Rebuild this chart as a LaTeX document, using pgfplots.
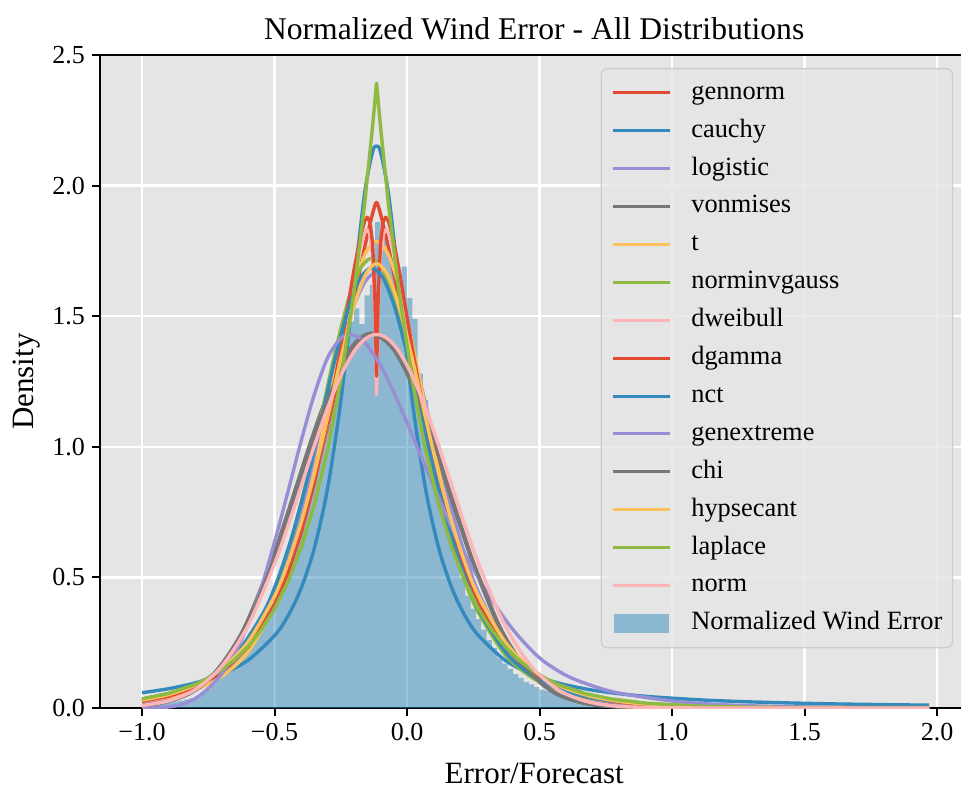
\documentclass[border=0pt]{standalone}
\usepackage{fontspec}
\setmainfont{Liberation Serif}
\usepackage{pgfplots}
\pgfplotsset{compat=1.18}
\usetikzlibrary{calc}
\definecolor{bgc}{HTML}{E5E5E5}
\definecolor{legc}{HTML}{CCCCCC}
\definecolor{cred}{HTML}{E24A33}
\definecolor{cblue}{HTML}{348ABD}
\definecolor{cpurple}{HTML}{988ED5}
\definecolor{cgray}{HTML}{777777}
\definecolor{cyellow}{HTML}{FBC15E}
\definecolor{cgreen}{HTML}{8EBA42}
\definecolor{cpink}{HTML}{FFB5B8}
\begin{document}
\begin{tikzpicture}
\begin{axis}[
  name=ax,
  scale only axis, width=434.2pt, height=326.5pt,
  xmin=-1.1585, xmax=2.1185, ymin=0, ymax=2.5,
  axis background/.style={fill=bgc},
  grid=major, grid style={white, line width=1.1pt},
  axis line style={black, line width=1.2pt},
  tick pos=left, tick align=outside, major tick length=4pt,
  tick style={black, line width=1pt},
  xtick={-1,-0.5,0,0.5,1,1.5,2},
  xticklabels={−1.0,−0.5,0.0,0.5,1.0,1.5,2.0},
  ytick={0,0.5,1,1.5,2,2.5},
  yticklabels={0.0,0.5,1.0,1.5,2.0,2.5},
  ticklabel style={font=\fontsize{13}{15}\selectfont},
  title={Normalized Wind Error - All Distributions},
  title style={at={(axis description cs:0.5,1.023)}, anchor=base, yshift=-6pt, font=\fontsize{15.8}{19}\selectfont},
  xlabel={Error/Forecast},
  xlabel style={at={(axis description cs:0.5,-0.1149)}, anchor=base, font=\fontsize{15.5}{18}\selectfont},
  ylabel={Density},
  ylabel style={at={(axis description cs:-0.076,0.5)}, anchor=base, font=\fontsize{15.5}{18}\selectfont},
  every axis plot/.append style={line width=1.7pt, line join=round, no markers},
  legend cell align=left,
  legend image code/.code={\draw[#1, line width=1.5pt] (0pt,0pt) -- (28.5pt,0pt);},
  legend style={
    at={(axis description cs:0.9823,0.980)}, anchor=north east,
    fill=bgc, fill opacity=0.8, text opacity=1, draw=legc, line width=0.6pt, rounded corners=3pt,
    font=\fontsize{13.2}{15}\selectfont,
    inner xsep=5pt, inner ysep=6pt,
    row sep=6.75pt,
    nodes={inner sep=0pt, text height=9.3pt, text depth=2.9pt},
    /tikz/every odd column/.append style={column sep=10pt},
  },
]
% histogram
\addplot[ybar interval, fill=cblue, fill opacity=0.5, draw=none, forget plot] coordinates {
(-1.00,0.012) (-0.98,0.014) (-0.96,0.016) (-0.94,0.018) (-0.92,0.020) (-0.90,0.022) (-0.88,0.025) (-0.86,0.028) (-0.84,0.033) (-0.82,0.038)
(-0.80,0.046) (-0.78,0.056) (-0.76,0.070) (-0.74,0.090) (-0.72,0.150) (-0.70,0.130) (-0.68,0.170) (-0.66,0.215) (-0.64,0.225) (-0.62,0.255)
(-0.60,0.285) (-0.58,0.300) (-0.56,0.330) (-0.54,0.370) (-0.52,0.410) (-0.50,0.470) (-0.48,0.540) (-0.46,0.600) (-0.44,0.650) (-0.42,0.730)
(-0.40,0.810) (-0.38,0.890) (-0.36,0.970) (-0.34,1.060) (-0.32,1.140) (-0.30,1.220) (-0.28,1.300) (-0.26,1.370) (-0.24,1.430) (-0.22,1.480)
(-0.20,1.530) (-0.18,1.470) (-0.16,1.580) (-0.14,1.620) (-0.12,1.860) (-0.10,1.800) (-0.08,1.760) (-0.06,1.720) (-0.04,1.660) (-0.02,1.690)
(0.00,1.570) (0.02,1.490) (0.04,1.280) (0.06,1.180) (0.08,1.080) (0.10,0.980) (0.12,0.860) (0.14,0.750) (0.16,0.650) (0.18,0.560)
(0.20,0.500) (0.22,0.430) (0.24,0.380) (0.26,0.340) (0.28,0.300) (0.30,0.260) (0.32,0.230) (0.34,0.190) (0.36,0.170) (0.38,0.150)
(0.40,0.130) (0.42,0.115) (0.44,0.100) (0.46,0.090) (0.48,0.080) (0.50,0.070) (0.52,0.065) (0.54,0.060) (0.56,0.055) (0.58,0.050)
(0.60,0.046) (0.62,0.042) (0.64,0.039) (0.66,0.036) (0.68,0.033) (0.70,0.030) (0.72,0.028) (0.74,0.026) (0.76,0.024) (0.78,0.022)
(0.80,0.020) (0.82,0.019) (0.84,0.018) (0.86,0.017) (0.88,0.016) (0.90,0.015) (0.92,0.014) (0.94,0.013) (0.96,0.012) (0.98,0.012)
(1.00,0.011) (1.02,0.010) (1.04,0.010) (1.06,0.009) (1.08,0.009) (1.10,0.009) (1.12,0.008) (1.14,0.008) (1.16,0.008) (1.18,0.007)
(1.20,0.007) (1.22,0.007) (1.24,0.006) (1.26,0.006) (1.28,0.006) (1.30,0.006) (1.32,0.005) (1.34,0.005) (1.36,0.005) (1.38,0.005)
(1.40,0.004) (1.42,0.004) (1.44,0.004) (1.46,0.004) (1.48,0.004) (1.50,0.004) (1.52,0.003) (1.54,0.003) (1.56,0.003) (1.58,0.003)
(1.60,0.003) (1.62,0.003) (1.64,0.003) (1.66,0.003) (1.68,0.003) (1.70,0.003) (1.72,0.002) (1.74,0.002) (1.76,0.002) (1.78,0.002)
(1.80,0.002) (1.82,0.002) (1.84,0.002) (1.86,0.002) (1.88,0.002) (1.90,0.002) (1.92,0.002) (1.94,0.002) (1.96,0.002) (1.98,0.002)
};
% gennorm
\addplot[cred, smooth] coordinates {
(-1.0,0.0220) (-0.9,0.0420) (-0.8,0.0782) (-0.7,0.1418) (-0.6,0.2496) (-0.5,0.4245) (-0.45,0.5455) (-0.4,0.6935) (-0.35,0.8707) (-0.3,1.078) (-0.25,1.312) (-0.2,1.564) (-0.16,1.763) (-0.13,1.892) (-0.115,1.935) (-0.1,1.892) (-0.07,1.763) (-0.03,1.564) (0.02,1.312) (0.07,1.078) (0.12,0.8707) (0.17,0.6935) (0.22,0.5455) (0.27,0.4245) (0.37,0.2496) (0.47,0.1418) (0.57,0.0782) (0.67,0.0420) (0.77,0.0220) (0.9,0.00919) (1.1,0.00224) (1.3,0.00051) (1.6,0.00005) (1.97,0)
};
\addlegendentry{gennorm}
% cauchy
\addplot[cblue, smooth] coordinates {
(-1.0,0.0585) (-0.9,0.0738) (-0.8,0.0959) (-0.7,0.1294) (-0.6,0.183) (-0.5,0.277) (-0.45,0.351) (-0.4,0.457) (-0.35,0.611) (-0.3,0.839) (-0.25,1.174) (-0.2,1.618) (-0.16,1.969) (-0.13,2.129) (-0.115,2.151) (-0.1,2.129) (-0.07,1.969) (-0.03,1.618) (0.02,1.174) (0.07,0.839) (0.12,0.611) (0.17,0.457) (0.22,0.351) (0.27,0.277) (0.37,0.183) (0.47,0.1294) (0.57,0.0959) (0.67,0.0738) (0.77,0.0585) (0.9,0.0448) (1.1,0.0315) (1.3,0.0233) (1.6,0.0159) (1.97,0.0108)
};
\addlegendentry{cauchy}
% logistic
\addplot[cpurple, smooth] coordinates {
(-1.0,0.0182) (-0.9,0.0352) (-0.8,0.0679) (-0.7,0.1296) (-0.6,0.2434) (-0.5,0.4415) (-0.45,0.583) (-0.4,0.7546) (-0.35,0.9523) (-0.3,1.1646) (-0.25,1.370) (-0.2,1.5397) (-0.16,1.6297) (-0.13,1.6625) (-0.115,1.667) (-0.1,1.6625) (-0.07,1.6297) (-0.03,1.5397) (0.02,1.370) (0.07,1.1646) (0.12,0.9523) (0.17,0.7546) (0.22,0.583) (0.27,0.4415) (0.37,0.2434) (0.47,0.1296) (0.57,0.0679) (0.67,0.0352) (0.77,0.0182) (0.9,0.0077) (1.1,0.0020) (1.3,0.0005) (1.6,0.0001) (1.97,0)
};
\addlegendentry{logistic}
% vonmises
\addplot[cgray, smooth] coordinates {
(-1.0,0.0085) (-0.918,0.022) (-0.818,0.060) (-0.718,0.145) (-0.618,0.300) (-0.518,0.545) (-0.468,0.6925) (-0.418,0.849) (-0.368,1.0065) (-0.318,1.152) (-0.268,1.2765) (-0.218,1.370) (-0.178,1.4165) (-0.148,1.433) (-0.133,1.435) (-0.118,1.433) (-0.088,1.4165) (-0.048,1.370) (0.002,1.2765) (0.052,1.152) (0.102,1.0065) (0.152,0.849) (0.202,0.6925) (0.252,0.545) (0.352,0.300) (0.452,0.145) (0.552,0.060) (0.652,0.022) (0.752,0.007) (0.882,0.0015) (1.082,0.0001) (1.4,0) (1.97,0)
};
\addlegendentry{vonmises}
% t
\addplot[cyellow, smooth] coordinates {
(-1.0,0.0259) (-0.9,0.0417) (-0.8,0.0696) (-0.7,0.1204) (-0.6,0.2146) (-0.5,0.3886) (-0.45,0.5212) (-0.4,0.6926) (-0.35,0.9036) (-0.3,1.146) (-0.25,1.396) (-0.2,1.6145) (-0.16,1.735) (-0.13,1.779) (-0.115,1.785) (-0.1,1.779) (-0.07,1.735) (-0.03,1.6145) (0.02,1.396) (0.07,1.146) (0.12,0.9036) (0.17,0.6926) (0.22,0.5212) (0.27,0.3886) (0.37,0.2146) (0.47,0.1204) (0.57,0.0696) (0.67,0.0417) (0.77,0.0259) (0.9,0.0146) (1.1,0.00664) (1.3,0.00333) (1.6,0.00136) (1.97,0.00054)
};
\addlegendentry{t}
% norminvgauss
\addplot[cgreen, smooth] coordinates {
(-1.0,0.0324) (-0.9497,0.0402) (-0.8459,0.0671) (-0.7421,0.1160) (-0.6383,0.2068) (-0.5346,0.3745) (-0.4827,0.5022) (-0.4308,0.6674) (-0.3789,0.8707) (-0.327,1.1043) (-0.2751,1.3452) (-0.2232,1.5557) (-0.1817,1.672) (-0.1506,1.714) (-0.135,1.72) (-0.1194,1.714) (-0.0883,1.672) (-0.0468,1.5557) (0.0051,1.3452) (0.057,1.1043) (0.1089,0.8707) (0.1608,0.6674) (0.2127,0.5022) (0.2646,0.3745) (0.3683,0.2068) (0.4721,0.1160) (0.5759,0.0671) (0.6797,0.0402) (0.7835,0.0250) (0.9184,0.01407) (1.1259,0.0064) (1.3335,0.0032) (1.6448,0.00131) (1.97,0.0006)
};
\addlegendentry{norminvgauss}
% dweibull
\addplot[cpink] coordinates {
(-1.0,0.0288) (-0.9236,0.0436) (-0.8206,0.0759) (-0.7176,0.1314) (-0.6146,0.2264) (-0.5116,0.3867) (-0.4601,0.5031) (-0.4086,0.6513) (-0.3571,0.8375) (-0.3056,1.0686) (-0.2541,1.3416) (-0.2283,1.4894) (-0.2026,1.635) (-0.1768,1.7638) (-0.1613,1.8174) (-0.151,1.832) (-0.1408,1.8155) (-0.1305,1.7365) (-0.1212,1.524) (-0.115,1.20) (-0.1088,1.524) (-0.0995,1.7365) (-0.0892,1.8155) (-0.079,1.832) (-0.0687,1.8174) (-0.0532,1.7638) (-0.0275,1.635) (-0.0017,1.4894) (0.0241,1.3416) (0.0756,1.0686) (0.1271,0.8375) (0.1786,0.6513) (0.2301,0.5031) (0.2816,0.3867) (0.3846,0.2264) (0.4876,0.1314) (0.5906,0.0759) (0.6936,0.0436) (0.7966,0.025) (0.9305,0.01205) (1.1365,0.0039) (1.3425,0.00126) (1.6515,0.00022) (1.97,0.00003)
};
\addlegendentry{dweibull}
% dgamma
\addplot[cred] coordinates {
(-1.0,0.0256) (-0.9,0.0447) (-0.8,0.0778) (-0.7,0.1348) (-0.6,0.2322) (-0.5,0.3966) (-0.45,0.516) (-0.4,0.668) (-0.35,0.859) (-0.3,1.096) (-0.25,1.376) (-0.225,1.5276) (-0.2,1.677) (-0.175,1.809) (-0.16,1.864) (-0.15,1.879) (-0.14,1.862) (-0.13,1.781) (-0.121,1.563) (-0.115,1.27) (-0.109,1.563) (-0.1,1.781) (-0.09,1.862) (-0.08,1.879) (-0.07,1.864) (-0.055,1.809) (-0.03,1.677) (-0.005,1.5276) (0.02,1.376) (0.07,1.096) (0.12,0.859) (0.17,0.668) (0.22,0.516) (0.27,0.3966) (0.37,0.2322) (0.47,0.1348) (0.57,0.0778) (0.67,0.0447) (0.77,0.0256) (0.9,0.01236) (1.1,0.0040) (1.3,0.00129) (1.6,0.00023) (1.97,0.00003)
};
\addlegendentry{dgamma}
% nct
\addplot[cblue, smooth] coordinates {
(-1.0,0.0344) (-0.8591,0.0657) (-0.7531,0.1136) (-0.6471,0.2025) (-0.5411,0.3666) (-0.4881,0.4917) (-0.4351,0.6534) (-0.3821,0.8525) (-0.3291,1.0811) (-0.2761,1.317) (-0.2231,1.5231) (-0.1807,1.637) (-0.1489,1.678) (-0.133,1.684) (-0.1171,1.678) (-0.0853,1.637) (-0.0429,1.5231) (0.0101,1.317) (0.0631,1.0811) (0.1161,0.8525) (0.1691,0.6534) (0.2221,0.4917) (0.2751,0.3666) (0.3811,0.2025) (0.4871,0.1136) (0.5931,0.0657) (0.6991,0.0393) (0.8051,0.0244) (0.9429,0.01377) (1.1549,0.00626) (1.3669,0.00314) (1.6849,0.00128) (1.97,0.0008)
};
\addlegendentry{nct}
% genextreme
\addplot[cpurple, smooth] coordinates {
(-1.0,0) (-0.95,0.001) (-0.9,0.004) (-0.85,0.014) (-0.8,0.035) (-0.75,0.075) (-0.7,0.13) (-0.65,0.21) (-0.6,0.32) (-0.55,0.46) (-0.5,0.635) (-0.45,0.825) (-0.4,1.02) (-0.35,1.2) (-0.3,1.34) (-0.25,1.415) (-0.215,1.43) (-0.18,1.4175) (-0.15,1.388) (-0.1,1.311) (-0.05,1.2087) (0.0,1.0925) (0.05,0.971) (0.1,0.8515) (0.15,0.735) (0.2,0.625) (0.3,0.445) (0.4,0.300) (0.5,0.192) (0.6,0.125) (0.7,0.085) (0.8,0.057) (1.0,0.027) (1.2,0.012) (1.5,0.004) (1.97,0.0006)
};
\addlegendentry{genextreme}
% chi
\addplot[cgray, smooth] coordinates {
(-1.0,0.008) (-0.913,0.0215) (-0.813,0.059) (-0.713,0.144) (-0.613,0.298) (-0.513,0.541) (-0.463,0.689) (-0.413,0.843) (-0.363,1.0) (-0.313,1.145) (-0.263,1.268) (-0.213,1.361) (-0.173,1.407) (-0.143,1.424) (-0.128,1.426) (-0.113,1.424) (-0.083,1.407) (-0.043,1.361) (0.007,1.268) (0.057,1.145) (0.107,1.0) (0.157,0.843) (0.207,0.689) (0.257,0.541) (0.357,0.298) (0.457,0.144) (0.557,0.059) (0.657,0.0215) (0.757,0.007) (0.887,0.0015) (1.087,0.0001) (1.4,0) (1.97,0)
};
\addlegendentry{chi}
% hypsecant
\addplot[cyellow, smooth] coordinates {
(-1.0,0.0301) (-0.9,0.0513) (-0.8,0.0875) (-0.7,0.1491) (-0.6,0.2535) (-0.5,0.4278) (-0.45,0.5525) (-0.4,0.708) (-0.35,0.896) (-0.3,1.1115) (-0.25,1.336) (-0.2,1.5385) (-0.16,1.652) (-0.13,1.6946) (-0.115,1.70) (-0.1,1.6946) (-0.07,1.652) (-0.03,1.5385) (0.02,1.336) (0.07,1.1115) (0.12,0.896) (0.17,0.708) (0.22,0.5525) (0.27,0.4278) (0.37,0.2535) (0.47,0.1491) (0.57,0.0875) (0.67,0.0513) (0.77,0.0301) (0.9,0.01502) (1.1,0.00516) (1.3,0.00177) (1.6,0.00036) (1.97,0.00005)
};
\addlegendentry{hypsecant}
% laplace
\addplot[cgreen] coordinates {
(-1.0,0.0347) (-0.9,0.0559) (-0.8,0.090) (-0.75,0.1145) (-0.7,0.146) (-0.65,0.185) (-0.6,0.235) (-0.55,0.299) (-0.5,0.379) (-0.45,0.482) (-0.4,0.612) (-0.35,0.777) (-0.3,0.987) (-0.25,1.254) (-0.2,1.593) (-0.16,1.929) (-0.13,2.226) (-0.115,2.392) (-0.1,2.226) (-0.07,1.929) (-0.03,1.593) (0.02,1.254) (0.07,0.987) (0.12,0.777) (0.17,0.612) (0.22,0.482) (0.27,0.379) (0.32,0.299) (0.37,0.235) (0.42,0.185) (0.47,0.146) (0.52,0.1145) (0.57,0.090) (0.67,0.0559) (0.77,0.0347) (0.9,0.0186) (1.1,0.0072) (1.3,0.0027) (1.6,0.00065) (1.97,0.0001)
};
\addlegendentry{laplace}
% norm
\addplot[cpink, smooth] coordinates {
(-1.0,0.00933) (-0.9,0.0273) (-0.8,0.0702) (-0.7,0.1586) (-0.6,0.3155) (-0.5,0.552) (-0.45,0.695) (-0.4,0.848) (-0.35,1.003) (-0.3,1.148) (-0.25,1.272) (-0.2,1.365) (-0.16,1.4115) (-0.13,1.428) (-0.115,1.430) (-0.1,1.428) (-0.07,1.4115) (-0.03,1.365) (0.02,1.272) (0.07,1.148) (0.12,1.003) (0.17,0.848) (0.22,0.695) (0.27,0.552) (0.37,0.3155) (0.47,0.1586) (0.57,0.0702) (0.67,0.0273) (0.77,0.00933) (0.9,0.00191) (1.1,0.0001) (1.3,0) (1.6,0) (1.97,0)
};
\addlegendentry{norm}
\addlegendimage{legend image code/.code={\path[draw=none, fill=cblue, fill opacity=0.5, sharp corners] (0.5pt,-4.7pt) rectangle (28pt,4.7pt);}}
\addlegendentry{Normalized Wind Error}
\end{axis}
\pgfresetboundingbox
\path[use as bounding box] ($(ax.south west)+(-50pt,-39.5pt)$) rectangle ($(ax.south west)+(430.5pt,354pt)$);
\end{tikzpicture}
\end{document}
